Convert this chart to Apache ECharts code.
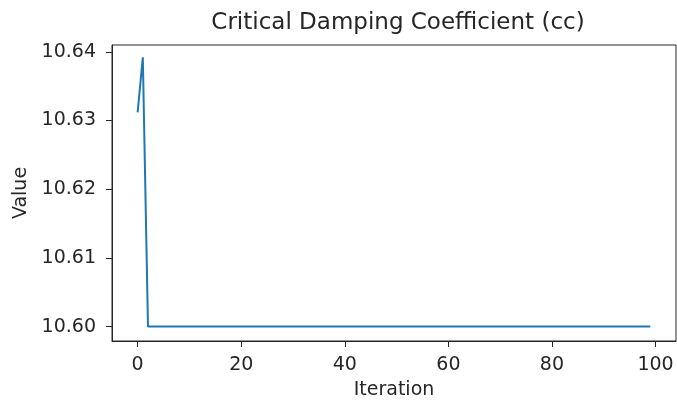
<!DOCTYPE html>
<html>
<head>
<meta charset="utf-8">
<script src="https://cdn.jsdelivr.net/npm/echarts@6/dist/echarts.min.js"></script>
<style>
  html, body { margin: 0; padding: 0; background: #fff; }
  #main { width: 677px; height: 400px; }
</style>
</head>
<body>
<div id="main"></div>
<script>
var chartTitle = 'Critical Damping Coefficient (cc)';
var xName = 'Iteration';
var yName = 'Value';

var headValues = [10.6312, 10.6392];
var tailValue = 10.6;
var iterCount = 100;

var xTicks = [0, 20, 40, 60, 80, 100];
var yTicks = [10.60, 10.61, 10.62, 10.63, 10.64];

var seriesData = [];
for (var i = 0; i < iterCount; i++) {
    seriesData.push([i, i < headValues.length ? headValues[i] : tailValue]);
}

var font = 'DejaVu Sans';
var ink = '#262626';

var myChart = echarts.init(document.getElementById('main'));
var option = {
    animation: false,
    backgroundColor: '#fff',
    title: {
        text: chartTitle,
        left: 393,
        textAlign: 'center',
        top: 7,
        textStyle: { fontFamily: font, fontSize: 23, fontWeight: 'normal', color: ink }
    },
    grid: {
        left: 112, right: 1, top: 45, bottom: 59,
        outerBoundsMode: 'none',
        containLabel: false,
        show: true, borderColor: ink, borderWidth: 1
    },
    xAxis: {
        type: 'value',
        min: -4.95,
        max: 103.95,
        name: xName,
        nameLocation: 'middle',
        nameGap: 40,
        nameTextStyle: { fontFamily: font, fontSize: 19, color: ink },
        splitLine: { show: false },
        axisLine: { show: true, onZero: false, lineStyle: { color: ink, width: 1 } },
        axisTick: { show: true, customValues: xTicks, length: 6, lineStyle: { color: ink } },
        axisLabel: {
            customValues: xTicks, margin: 15,
            fontFamily: font, fontSize: 19, color: ink
        }
    },
    yAxis: {
        type: 'value',
        min: 10.5979,
        max: 10.641,
        name: yName,
        nameLocation: 'middle',
        nameGap: 80,
        nameTextStyle: { fontFamily: font, fontSize: 19, color: ink },
        splitLine: { show: false },
        axisLine: { show: true, onZero: false, lineStyle: { color: ink, width: 1 } },
        axisTick: { show: true, customValues: yTicks, length: 6, lineStyle: { color: ink } },
        axisLabel: {
            customValues: yTicks, margin: 16,
            fontFamily: font, fontSize: 19, color: ink,
            formatter: function (v) { return v.toFixed(2); }
        }
    },
    series: [{
        type: 'line',
        data: seriesData,
        showSymbol: false,
        lineStyle: { color: '#1f77b4', width: 2 },
        itemStyle: { color: '#1f77b4' }
    }]
};
myChart.setOption(option);
</script>
</body>
</html>
